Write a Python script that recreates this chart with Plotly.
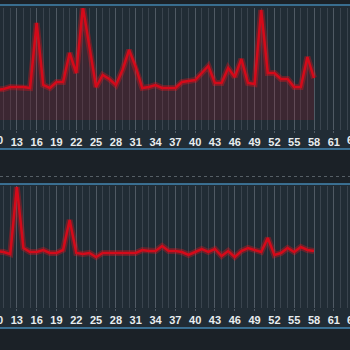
import plotly.graph_objects as go

x_vals = list(range(9, 59))
top_vals = [30, 30, 31, 33, 33, 33, 32, 97, 35, 32, 38, 38, 67, 47, 113, 72, 33, 45, 41, 35,
            50, 70, 53, 32, 33, 35, 32, 32, 32, 38, 39, 40, 47, 54, 37, 37, 52, 43, 61, 37,
            36, 110, 47, 47, 41, 41, 33, 33, 63, 42]
bottom_vals = [57, 57, 56, 54, 121, 60, 56, 56, 58, 55, 55, 58, 88, 55, 54, 55, 51, 55, 55, 55,
               55, 55, 55, 58, 57, 57, 62, 57, 57, 56, 53, 56, 59, 56, 59, 52, 57, 51, 57, 60,
               58, 56, 70, 53, 55, 60, 56, 61, 58, 57]
edge_ticks = [10, 64]

H = 350.0
def py(p):
    return 1 - p / H

RED = "#d40a1a"
fig = go.Figure()

fig.add_trace(go.Scatter(x=x_vals, y=top_vals, mode="lines", fill="tozeroy",
                         fillcolor="rgba(170,20,40,0.20)",
                         line=dict(color="rgba(230,20,30,0.35)", width=6),
                         hoverinfo="skip", showlegend=False, xaxis="x", yaxis="y"))
fig.add_trace(go.Scatter(x=x_vals, y=top_vals, mode="lines",
                         line=dict(color=RED, width=2.5),
                         showlegend=False, xaxis="x", yaxis="y"))
fig.add_trace(go.Scatter(x=x_vals, y=bottom_vals, mode="lines",
                         line=dict(color="rgba(230,20,30,0.35)", width=6),
                         hoverinfo="skip", showlegend=False, xaxis="x2", yaxis="y2"))
fig.add_trace(go.Scatter(x=x_vals, y=bottom_vals, mode="lines",
                         line=dict(color=RED, width=2.5),
                         showlegend=False, xaxis="x2", yaxis="y2"))

xr = [10.45, 63.45]
grid_major = "rgba(190,200,210,0.30)"
grid_minor = "rgba(190,200,210,0.16)"
tickfont = dict(family="Liberation Sans", size=11, color="#e8ecef", weight="bold")

xcommon = dict(range=xr, tick0=1, dtick=3, showgrid=True, gridcolor=grid_major, gridwidth=1,
               minor=dict(dtick=1, tick0=1, showgrid=True, gridcolor=grid_minor, gridwidth=1),
               ticks="outside", ticklen=2, tickcolor=grid_major, showline=False,
               zeroline=False, tickfont=tickfont, fixedrange=True)

# partially visible edge tick labels (outside axis range)
annotations = []
for t in edge_ticks:
    xp = (t - xr[0]) / (xr[1] - xr[0])
    for ypx in (140, 320):
        annotations.append(dict(x=xp, y=py(ypx), xref="paper", yref="paper", text=str(t),
                                showarrow=False, xanchor="center", yanchor="middle",
                                font=tickfont))

fig.update_layout(
    width=350, height=350,
    margin=dict(l=0, r=0, t=0, b=0),
    paper_bgcolor="#1b2127",
    plot_bgcolor="#27343f",
    xaxis=dict(anchor="y", **xcommon),
    xaxis2=dict(anchor="y2", **xcommon),
    yaxis=dict(domain=[py(130), py(8)], range=[-10, 112], visible=False),
    yaxis2=dict(domain=[py(308), py(186)], range=[0, 122], visible=False),
    annotations=annotations,
    shapes=[
        dict(type="rect", xref="paper", yref="paper", x0=0, x1=1, y0=py(149), y1=py(6),
             fillcolor="#212c35", line=dict(width=0), layer="below"),
        dict(type="rect", xref="paper", yref="paper", x0=0, x1=1, y0=py(328), y1=py(184),
             fillcolor="#212c35", line=dict(width=0), layer="below"),
        dict(type="line", xref="paper", yref="paper", x0=0, x1=1, y0=py(5), y1=py(5),
             line=dict(color="#4587b3", width=1.5)),
        dict(type="line", xref="paper", yref="paper", x0=0, x1=1, y0=py(149), y1=py(149),
             line=dict(color="#4587b3", width=1.5)),
        dict(type="line", xref="paper", yref="paper", x0=0, x1=1, y0=py(184), y1=py(184),
             line=dict(color="#4587b3", width=1.5)),
        dict(type="line", xref="paper", yref="paper", x0=0, x1=1, y0=py(328), y1=py(328),
             line=dict(color="#4587b3", width=1.5)),
        dict(type="line", xref="paper", yref="paper", x0=0, x1=1, y0=py(176.5), y1=py(176.5),
             line=dict(color="rgba(160,170,180,0.45)", width=1, dash="dot")),
    ],
)

fig.write_html("out.html")
